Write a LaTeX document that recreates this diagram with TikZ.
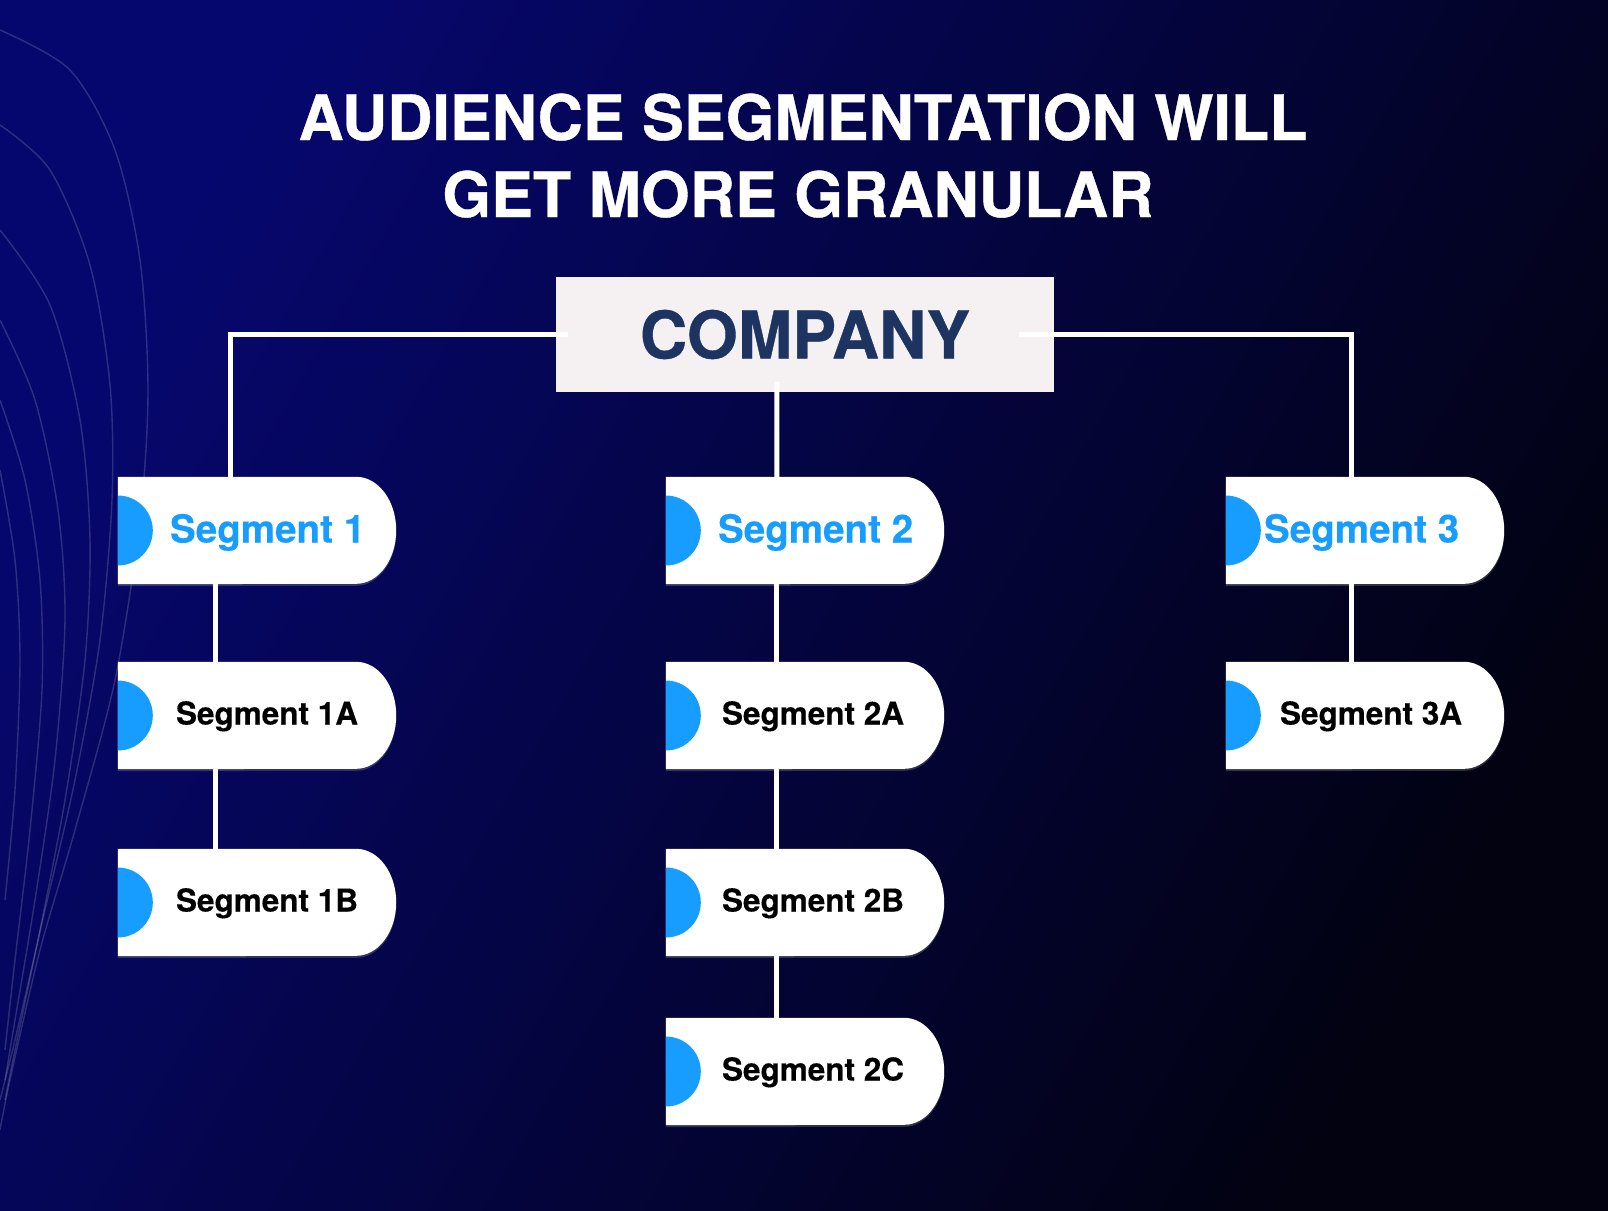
\documentclass[tikz,border=0pt]{standalone}
\usepackage{fontspec}
\setmainfont{TeX Gyre Heros}
\newfontface\heavy{TeX Gyre Heros Bold}[FakeBold=0.6]
\newfontface\semiheavy{TeX Gyre Heros Bold}[FakeBold=0.3]
\usetikzlibrary{calc}
\definecolor{bgA}{HTML}{06076E}
\definecolor{bgB}{HTML}{02024A}
\definecolor{bgC}{HTML}{020210}
\definecolor{segblue}{HTML}{179CFF}
\definecolor{coText}{HTML}{1D3461}
\definecolor{coFill}{HTML}{F5F0F1}
\pgfdeclarelayer{bg}
\pgfdeclarelayer{shp}
\pgfsetlayers{bg,shp,main}
\begin{document}
\begin{tikzpicture}[x=1pt,y=-1pt,
  box/.style={rectangle, minimum width=278pt, minimum height=107pt, inner sep=0pt, draw=none},
  maint/.style={anchor=base west, inner sep=0pt, text=segblue, font=\fontsize{38.6}{41}\semiheavy},
  subt/.style={anchor=base west, inner sep=0pt, text=black, font=\fontsize{31.5}{34}\semiheavy},
  conn/.style={draw=white, line width=5pt},
  curve/.style={draw=white, draw opacity=0.16, line width=1.4pt},
  titlet/.style={anchor=base, inner sep=0pt, text=white, font=\fontsize{62.7}{70}\heavy}]

\useasboundingbox (0,0) rectangle (1608,1210);

\begin{pgfonlayer}{bg}
  \shade[top color=bgA, middle color=bgB, bottom color=bgC, shading angle=60] (0,0) rectangle (1608,1210);
  \begin{scope}
    \clip (0,0) rectangle (1608,1210);
    \draw[curve] plot[smooth] coordinates {(0,30) (70,70) (115,150) (140,260) (148,390) (140,520) (115,680) (75,830) (40,950) (10,1080) (0,1130)};
    \draw[curve] plot[smooth] coordinates {(0,125) (50,170) (90,265) (110,385) (112,500) (100,640) (75,780) (45,910) (15,1040) (0,1100)};
    \draw[curve] plot[smooth] coordinates {(0,230) (50,305) (80,420) (90,540) (85,660) (65,800) (40,930) (15,1050) (5,1100)};
    \draw[curve] plot[smooth] coordinates {(0,320) (35,400) (58,510) (65,620) (55,760) (35,900) (15,1020) (5,1080)};
    \draw[curve] plot[smooth] coordinates {(0,400) (25,480) (40,580) (42,690) (30,830) (15,960) (5,1050)};
    \draw[curve] plot[smooth] coordinates {(0,470) (15,560) (20,660) (15,790) (5,900)};
  \end{scope}
\end{pgfonlayer}

% title
\node[titlet] (t1) at (803,140) {AUDIENCE SEGMENTATION WILL};
\node[titlet] (t2) at (798,217) {GET MORE GRANULAR};

% company
\node[fill=coFill, minimum width=498pt, minimum height=115pt, inner sep=0pt, text=coText,
      font=\fontsize{65.5}{70}\heavy] (co) at (805,334.5) {COMPANY};

% segment boxes
\node[box] (s1)  at (257,530.5) {};
\node[box] (s1a) at (257,715.5) {};
\node[box] (s1b) at (257,902.5) {};
\node[box] (s2)  at (805,530.5) {};
\node[box] (s2a) at (805,715.5) {};
\node[box] (s2b) at (805,902.5) {};
\node[box] (s2c) at (805,1071.5) {};
\node[box] (s3)  at (1365,530.5) {};
\node[box] (s3a) at (1365,715.5) {};

\begin{pgfonlayer}{shp}
  \foreach \n in {s1,s1a,s1b,s2,s2a,s2b,s2c,s3,s3a}{
    \fill[black!40, opacity=0.3] ([yshift=-2]\n.north west) -- ([xshift=-40,yshift=-2]\n.north east)
      arc[start angle=90, end angle=-90, x radius=40pt, y radius=53.5pt] -- ([yshift=-2]\n.south west) -- cycle;
    \fill[white] (\n.north west) -- ([xshift=-40]\n.north east)
      arc[start angle=90, end angle=-90, x radius=40pt, y radius=53.5pt] -- (\n.south west) -- cycle;
    \fill[segblue] ([yshift=35]\n.west) arc[start angle=90, end angle=-90, radius=35pt] -- cycle;
  }
\end{pgfonlayer}

% labels
\node[maint] (l1)  at ($(s1.west)+(52,12)$) {Segment 1};
\node[maint] (l2)  at ($(s2.west)+(52,12)$) {Segment 2};
\node[maint] (l3)  at ($(s3.west)+(38,12)$) {Segment 3};
\node[subt] (l1a) at ($(s1a.west)+(58,9)$) {Segment 1A};
\node[subt] (l1b) at ($(s1b.west)+(58,9)$) {Segment 1B};
\node[subt] (l2a) at ($(s2a.west)+(56,9)$) {Segment 2A};
\node[subt] (l2b) at ($(s2b.west)+(56,9)$) {Segment 2B};
\node[subt] (l2c) at ($(s2c.west)+(56,9)$) {Segment 2C};
\node[subt] (l3a) at ($(s3a.west)+(54,9)$) {Segment 3A};

% connectors
\draw[conn] ([xshift=12]co.west) -| ([xshift=113]s1.north west);
\draw[conn] ([xshift=-35]co.east) -| ([xshift=126]s3.north west);
\draw[conn] ([xshift=-28,yshift=10]co.south) -- ([xshift=111]s2.north west);
\draw[conn] ([xshift=98]s1.south west) -- ([xshift=98]s1a.north west);
\draw[conn] ([xshift=98]s1a.south west) -- ([xshift=98]s1b.north west);
\draw[conn] ([xshift=111]s2.south west) -- ([xshift=111]s2a.north west);
\draw[conn] ([xshift=111]s2a.south west) -- ([xshift=111]s2b.north west);
\draw[conn] ([xshift=111]s2b.south west) -- ([xshift=111]s2c.north west);
\draw[conn] ([xshift=126]s3.south west) -- ([xshift=126]s3a.north west);
\end{tikzpicture}
\end{document}
